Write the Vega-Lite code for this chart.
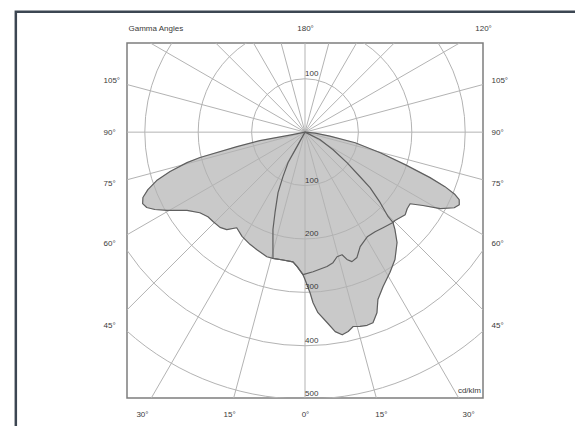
{
  "$schema": "https://vega.github.io/schema/vega-lite/v6.json",
  "width": 356,
  "height": 355,
  "autosize": "none",
  "padding": {"left": 127, "top": 43, "right": 92, "bottom": 28},
  "background": "white",
  "config": {
    "view": {"stroke": "#7d7d7d", "strokeWidth": 1.5},
    "axis": {"labelFont": "Liberation Sans", "labelFontSize": 8, "labelColor": "#3a3a3a", "domain": false, "ticks": false, "tickSize": 0, "grid": false, "title": null, "labelOverlap": false, "labelFlush": false, "labelBound": false}
  },
  "datasets": {
    "curves": [
      {"c": "A", "i": 0, "g": -90, "I": 0},
      {"c": "A", "i": 1, "g": -78.7, "I": 29},
      {"c": "A", "i": 2, "g": -79.3, "I": 86},
      {"c": "A", "i": 3, "g": -78, "I": 130},
      {"c": "A", "i": 4, "g": -76.4, "I": 202},
      {"c": "A", "i": 5, "g": -75.5, "I": 228},
      {"c": "A", "i": 6, "g": -73.7, "I": 263},
      {"c": "A", "i": 7, "g": -71.9, "I": 292},
      {"c": "A", "i": 8, "g": -69.9, "I": 313},
      {"c": "A", "i": 9, "g": -68, "I": 327},
      {"c": "A", "i": 10, "g": -66.2, "I": 332},
      {"c": "A", "i": 11, "g": -64.5, "I": 328},
      {"c": "A", "i": 12, "g": -62.7, "I": 316},
      {"c": "A", "i": 13, "g": -60.4, "I": 297},
      {"c": "A", "i": 14, "g": -56.4, "I": 265},
      {"c": "A", "i": 15, "g": -52.5, "I": 248},
      {"c": "A", "i": 16, "g": -48.9, "I": 241},
      {"c": "A", "i": 17, "g": -45.8, "I": 240},
      {"c": "A", "i": 18, "g": -41.7, "I": 239},
      {"c": "A", "i": 19, "g": -38.7, "I": 234},
      {"c": "A", "i": 20, "g": -35.5, "I": 220},
      {"c": "A", "i": 21, "g": -31.1, "I": 228},
      {"c": "A", "i": 22, "g": -26.1, "I": 234},
      {"c": "A", "i": 23, "g": -22.2, "I": 238},
      {"c": "A", "i": 24, "g": -17, "I": 244},
      {"c": "A", "i": 25, "g": -14.2, "I": 244},
      {"c": "A", "i": 26, "g": -9.75, "I": 243},
      {"c": "A", "i": 27, "g": -5.3, "I": 244},
      {"c": "A", "i": 28, "g": -3.4, "I": 252},
      {"c": "A", "i": 29, "g": -0.8, "I": 267},
      {"c": "A", "i": 30, "g": 3.3, "I": 262},
      {"c": "A", "i": 31, "g": 9.3, "I": 255},
      {"c": "A", "i": 32, "g": 12.1, "I": 250},
      {"c": "A", "i": 33, "g": 14.4, "I": 241},
      {"c": "A", "i": 34, "g": 16.8, "I": 240},
      {"c": "A", "i": 35, "g": 18.2, "I": 251},
      {"c": "A", "i": 36, "g": 19.9, "I": 258},
      {"c": "A", "i": 37, "g": 22.5, "I": 254},
      {"c": "A", "i": 38, "g": 25.7, "I": 238},
      {"c": "A", "i": 39, "g": 30.7, "I": 228},
      {"c": "A", "i": 40, "g": 35.1, "I": 228},
      {"c": "A", "i": 41, "g": 39.2, "I": 231},
      {"c": "A", "i": 42, "g": 44.2, "I": 236},
      {"c": "A", "i": 43, "g": 45.5, "I": 236},
      {"c": "A", "i": 44, "g": 50.5, "I": 243},
      {"c": "A", "i": 45, "g": 53.1, "I": 239},
      {"c": "A", "i": 46, "g": 55.7, "I": 238},
      {"c": "A", "i": 47, "g": 58.1, "I": 260},
      {"c": "A", "i": 48, "g": 60.5, "I": 291},
      {"c": "A", "i": 49, "g": 63.1, "I": 313},
      {"c": "A", "i": 50, "g": 64.8, "I": 319},
      {"c": "A", "i": 51, "g": 66.3, "I": 315},
      {"c": "A", "i": 52, "g": 67.4, "I": 304},
      {"c": "A", "i": 53, "g": 68.7, "I": 281},
      {"c": "A", "i": 54, "g": 70, "I": 249},
      {"c": "A", "i": 55, "g": 72, "I": 197},
      {"c": "A", "i": 56, "g": 74.7, "I": 146},
      {"c": "A", "i": 57, "g": 78.1, "I": 96},
      {"c": "A", "i": 58, "g": 80.9, "I": 47},
      {"c": "A", "i": 59, "g": 84.3, "I": 19},
      {"c": "A", "i": 60, "g": 90, "I": 0},
      {"c": "B", "i": 0, "g": -29, "I": 0},
      {"c": "B", "i": 1, "g": -28.9, "I": 31},
      {"c": "B", "i": 2, "g": -29.1, "I": 65},
      {"c": "B", "i": 3, "g": -26.3, "I": 93},
      {"c": "B", "i": 4, "g": -24, "I": 124},
      {"c": "B", "i": 5, "g": -20.4, "I": 161},
      {"c": "B", "i": 6, "g": -18.2, "I": 192},
      {"c": "B", "i": 7, "g": -15.9, "I": 219},
      {"c": "B", "i": 8, "g": -14.2, "I": 244},
      {"c": "B", "i": 9, "g": -9.75, "I": 243},
      {"c": "B", "i": 10, "g": -5.3, "I": 244},
      {"c": "B", "i": 11, "g": -3.4, "I": 252},
      {"c": "B", "i": 12, "g": -0.8, "I": 267},
      {"c": "B", "i": 13, "g": 0, "I": 276},
      {"c": "B", "i": 14, "g": 1.8, "I": 301},
      {"c": "B", "i": 15, "g": 2.7, "I": 320},
      {"c": "B", "i": 16, "g": 4.1, "I": 339},
      {"c": "B", "i": 17, "g": 6.6, "I": 359},
      {"c": "B", "i": 18, "g": 8.6, "I": 378},
      {"c": "B", "i": 19, "g": 10.4, "I": 386},
      {"c": "B", "i": 20, "g": 12.2, "I": 382},
      {"c": "B", "i": 21, "g": 13.9, "I": 375},
      {"c": "B", "i": 22, "g": 15.8, "I": 378},
      {"c": "B", "i": 23, "g": 17.8, "I": 380},
      {"c": "B", "i": 24, "g": 19.6, "I": 379},
      {"c": "B", "i": 25, "g": 21.7, "I": 364},
      {"c": "B", "i": 26, "g": 23.5, "I": 342},
      {"c": "B", "i": 27, "g": 26.8, "I": 324},
      {"c": "B", "i": 28, "g": 31.2, "I": 307},
      {"c": "B", "i": 29, "g": 35.2, "I": 292},
      {"c": "B", "i": 30, "g": 39.8, "I": 269},
      {"c": "B", "i": 31, "g": 42.7, "I": 248},
      {"c": "B", "i": 32, "g": 44.2, "I": 236},
      {"c": "B", "i": 33, "g": 44.5, "I": 222},
      {"c": "B", "i": 34, "g": 46.8, "I": 193},
      {"c": "B", "i": 35, "g": 49.5, "I": 160},
      {"c": "B", "i": 36, "g": 51, "I": 132},
      {"c": "B", "i": 37, "g": 54, "I": 97},
      {"c": "B", "i": 38, "g": 58, "I": 62},
      {"c": "B", "i": 39, "g": 63.4, "I": 31},
      {"c": "B", "i": 40, "g": 63, "I": 0}
    ],
    "rays": [
      {"g": 0}, {"g": 15}, {"g": 30}, {"g": 45}, {"g": 60}, {"g": 75},
      {"g": 90}, {"g": 105}, {"g": 120}, {"g": 135}, {"g": 150}, {"g": 165},
      {"g": 180}, {"g": 195}, {"g": 210}, {"g": 225}, {"g": 240}, {"g": 255},
      {"g": 270}, {"g": 285}, {"g": 300}, {"g": 315}, {"g": 330}, {"g": 345}
    ],
    "rings": [{"r": 100, "cx": 0, "cy": 0}, {"r": 200, "cx": 0, "cy": 0}, {"r": 300, "cx": 0, "cy": 0}, {"r": 400, "cx": 0, "cy": 0}, {"r": 500, "cx": 0, "cy": 0}],
    "ringlabels": [
      {"g": 180, "I": 100, "t": "100"},
      {"g": 0, "I": 100, "t": "100"},
      {"g": 0, "I": 200, "t": "200"},
      {"g": 0, "I": 300, "t": "300"},
      {"g": 0, "I": 400, "t": "400"},
      {"g": 0, "I": 500, "t": "500"}
    ],
    "unit": [{"t": "cd/klm", "x": 333, "y": -498}],
    "frame": [{"x1": -541, "x2": 560, "y1": 225.7, "y2": -560}]
  },
  "resolve": {"axis": {"x": "independent", "y": "independent"}},
  "layer": [
    {
      "data": {"name": "curves"},
      "transform": [
        {"calculate": "datum.I*sin(datum.g*PI/180)", "as": "x"},
        {"calculate": "-datum.I*cos(datum.g*PI/180)", "as": "y"}
      ],
      "mark": {"type": "line", "interpolate": "linear-closed", "fill": "#c9c9c9", "stroke": "#c9c9c9", "strokeWidth": 0.5},
      "encoding": {
        "x": {"field": "x", "type": "quantitative", "scale": {"domain": [-333, 333], "nice": false, "zero": false},
          "axis": {"orient": "bottom", "values": [-305, -142, 0, 142, 305], "labelExpr": "abs(datum.value) > 200 ? '30°' : abs(datum.value) > 50 ? '15°' : '0°'", "labelBaseline": "middle", "labelPadding": 16}},
        "y": {"field": "y", "type": "quantitative", "scale": {"domain": [-498, 167], "nice": false, "zero": false},
          "axis": {"orient": "left", "values": [96, 0, -96, -209, -362], "labelExpr": "datum.value > 50 ? '105°' : datum.value > -50 ? '90°' : datum.value > -150 ? '75°' : datum.value > -300 ? '60°' : '45°'", "labelAlign": "left", "labelBaseline": "middle", "labelPadding": 24}},
        "detail": {"field": "c", "type": "nominal"},
        "order": {"field": "i", "type": "quantitative"}
      }
    },
    {
      "data": {"name": "rings"},
      "mark": {"type": "point", "shape": "circle", "filled": false, "stroke": "#b3b3b3", "strokeWidth": 1, "opacity": 1, "clip": true},
      "encoding": {
        "x": {"field": "cx", "type": "quantitative", "scale": {"domain": [-333, 333], "nice": false, "zero": false}, "axis": null},
        "y": {"field": "cy", "type": "quantitative", "scale": {"domain": [-498, 167], "nice": false, "zero": false}, "axis": null},
        "size": {"field": "r", "type": "quantitative", "scale": {"type": "pow", "exponent": 2, "domain": [0, 500], "range": [0, 285156], "zero": true}, "legend": null}
      }
    },
    {
      "data": {"name": "rays"},
      "transform": [
        {"calculate": "0", "as": "x1"},
        {"calculate": "0", "as": "y1"},
        {"calculate": "700*sin(datum.g*PI/180)", "as": "x2"},
        {"calculate": "-700*cos(datum.g*PI/180)", "as": "y2"}
      ],
      "mark": {"type": "rule", "stroke": "#b3b3b3", "strokeWidth": 1, "clip": true},
      "encoding": {
        "x": {"field": "x1", "type": "quantitative", "scale": {"domain": [-333, 333], "nice": false, "zero": false}, "axis": null},
        "y": {"field": "y1", "type": "quantitative", "scale": {"domain": [-498, 167], "nice": false, "zero": false}, "axis": null},
        "x2": {"field": "x2"},
        "y2": {"field": "y2"}
      }
    },
    {
      "data": {"name": "curves"},
      "transform": [
        {"calculate": "datum.I*sin(datum.g*PI/180)", "as": "x"},
        {"calculate": "-datum.I*cos(datum.g*PI/180)", "as": "y"}
      ],
      "mark": {"type": "line", "interpolate": "linear-closed", "stroke": "#5f5f5f", "strokeWidth": 1.2, "strokeJoin": "round"},
      "encoding": {
        "x": {"field": "x", "type": "quantitative", "scale": {"domain": [-333, 333], "nice": false, "zero": false},
          "axis": {"orient": "top", "values": [-280, 0, 333], "labelExpr": "datum.value < -100 ? 'Gamma Angles' : datum.value > 100 ? '120°' : '180°'", "labelBaseline": "middle", "labelPadding": 15}},
        "y": {"field": "y", "type": "quantitative", "scale": {"domain": [-498, 167], "nice": false, "zero": false},
          "axis": {"orient": "right", "values": [96, 0, -96, -209, -362], "labelExpr": "datum.value > 50 ? '105°' : datum.value > -50 ? '90°' : datum.value > -150 ? '75°' : datum.value > -300 ? '60°' : '45°'", "labelAlign": "left", "labelBaseline": "middle", "labelPadding": 8}},
        "detail": {"field": "c", "type": "nominal"},
        "order": {"field": "i", "type": "quantitative"}
      }
    },
    {
      "data": {"name": "ringlabels"},
      "transform": [
        {"calculate": "datum.I*sin(datum.g*PI/180)", "as": "x"},
        {"calculate": "-datum.I*cos(datum.g*PI/180)", "as": "y"}
      ],
      "mark": {"type": "text", "align": "left", "baseline": "middle", "dx": 0, "dy": -5, "font": "Liberation Sans", "fontSize": 8, "fill": "#3a3a3a"},
      "encoding": {
        "x": {"field": "x", "type": "quantitative", "scale": {"domain": [-333, 333], "nice": false, "zero": false}, "axis": null},
        "y": {"field": "y", "type": "quantitative", "scale": {"domain": [-498, 167], "nice": false, "zero": false}, "axis": null},
        "text": {"field": "t"}
      }
    },
    {
      "data": {"name": "unit"},
      "mark": {"type": "text", "align": "right", "baseline": "middle", "dx": -2, "dy": -7, "font": "Liberation Sans", "fontSize": 8, "fill": "#3a3a3a"},
      "encoding": {
        "x": {"field": "x", "type": "quantitative", "scale": {"domain": [-333, 333], "nice": false, "zero": false}, "axis": null},
        "y": {"field": "y", "type": "quantitative", "scale": {"domain": [-498, 167], "nice": false, "zero": false}, "axis": null},
        "text": {"field": "t"}
      }
    },
    {
      "data": {"name": "frame"},
      "mark": {"type": "rect", "fill": null, "fillOpacity": 0, "stroke": "#3c4652", "strokeWidth": 2.5, "clip": false},
      "encoding": {
        "x": {"field": "x1", "type": "quantitative", "scale": {"domain": [-333, 333], "nice": false, "zero": false}, "axis": null},
        "x2": {"field": "x2"},
        "y": {"field": "y1", "type": "quantitative", "scale": {"domain": [-498, 167], "nice": false, "zero": false}, "axis": null},
        "y2": {"field": "y2"}
      }
    }
  ]
}
